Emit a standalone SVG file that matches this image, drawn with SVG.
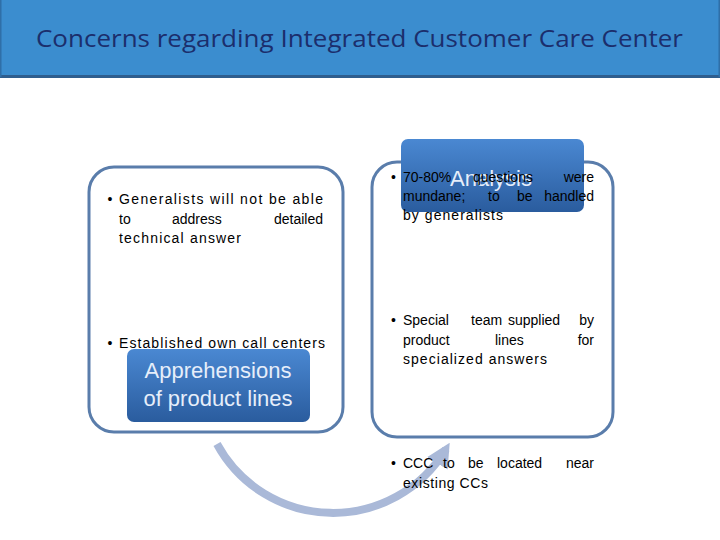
<svg xmlns="http://www.w3.org/2000/svg" width="720" height="540" viewBox="0 0 720 540">
<defs>
<linearGradient id="blueGrad" x1="0" y1="0" x2="0" y2="1">
<stop offset="0" stop-color="#4a88d2"/>
<stop offset="1" stop-color="#2a5c9e"/>
</linearGradient>
<marker id="arrowHead" viewBox="0 0 10 10" refX="7" refY="5" markerWidth="3" markerHeight="3" orient="auto" markerUnits="strokeWidth">
<path d="M0,0 L10,5 L0,10 z" fill="#aab9d8"/>
</marker>
<style>
.frame{fill:#ffffff;stroke:#5a7dab;stroke-width:3}
.tab{fill:url(#blueGrad)}
.tabText{font-family:"Liberation Sans","Open Sans",sans-serif;font-size:22px;fill:#e6eefa;text-anchor:middle}
.body{font-family:"Liberation Sans","Open Sans",sans-serif;font-size:14px;fill:#000000}
.title{font-family:"Open Sans","Liberation Sans",sans-serif;font-size:24px;fill:#1b2e6c}
</style>
</defs>
<rect width="720" height="540" fill="#ffffff"/>
<g id="header">
<rect x="0" y="0" width="720" height="77" fill="#3b8dcf"/>
<rect x="0" y="75" width="720" height="3" fill="#2f5e8e"/>
<rect x="0" y="0" width="1.5" height="77" fill="#2f6fa8"/>
<rect x="718.5" y="0" width="1.5" height="77" fill="#2f6fa8"/>
<text class="title" x="36" y="47" textLength="647" lengthAdjust="spacingAndGlyphs">Concerns regarding Integrated Customer Care Center</text>
</g>
<g id="connectors">
<path d="M217,444 A132,132 0 0 0 446,449" fill="none" stroke="#aab9d8" stroke-width="8" marker-end="url(#arrowHead)"/>
</g>
<g id="left-panel">
<rect class="frame" x="89" y="167" width="254" height="265" rx="25" ry="25"/>
<text class="body" x="107.5" y="204">•</text>
<text class="body" x="119" y="204" textLength="204" lengthAdjust="spacing">Generalists will not be able</text>
<text class="body" x="119" y="224">to</text>
<text class="body" x="172" y="224">address</text>
<text class="body" x="323" y="224" text-anchor="end">detailed</text>
<text class="body" x="119" y="243" textLength="122" lengthAdjust="spacing">technical answer</text>
<text class="body" x="107.5" y="348">•</text>
<text class="body" x="119" y="348" textLength="206" lengthAdjust="spacing">Established own call centers</text>
</g>
<g id="apprehensions">
<rect class="tab" x="127" y="349" width="183" height="73" rx="7" ry="7"/>
<text class="tabText" x="218" y="378">Apprehensions</text>
<text class="tabText" x="218" y="406">of product lines</text>
</g>
<g id="right-panel">
<rect class="frame" x="372" y="162" width="241" height="275" rx="25" ry="25"/>
</g>
<g id="analysis">
<rect class="tab" x="401" y="139" width="183" height="73" rx="7" ry="7"/>
<text class="tabText" x="491" y="186" font-size="24">Analysis</text>
</g>
<g id="right-text">
<text class="body" x="391" y="182">•</text>
<text class="body" x="403" y="182">70-80%</text>
<text class="body" x="473" y="182">questions</text>
<text class="body" x="594" y="182" text-anchor="end">were</text>
<text class="body" x="403" y="201">mundane;</text>
<text class="body" x="488" y="201">to</text>
<text class="body" x="517" y="201">be</text>
<text class="body" x="594" y="201" text-anchor="end">handled</text>
<text class="body" x="403" y="220" textLength="100" lengthAdjust="spacing">by generalists</text>
<text class="body" x="391" y="325">•</text>
<text class="body" x="403" y="325">Special</text>
<text class="body" x="471" y="325">team</text>
<text class="body" x="508" y="325">supplied</text>
<text class="body" x="594" y="325" text-anchor="end">by</text>
<text class="body" x="403" y="345">product</text>
<text class="body" x="495" y="345">lines</text>
<text class="body" x="594" y="345" text-anchor="end">for</text>
<text class="body" x="403" y="364" textLength="144" lengthAdjust="spacing">specialized answers</text>
<text class="body" x="391" y="468">•</text>
<text class="body" x="403" y="468">CCC</text>
<text class="body" x="443" y="468">to</text>
<text class="body" x="468" y="468">be</text>
<text class="body" x="497" y="468">located</text>
<text class="body" x="594" y="468" text-anchor="end">near</text>
<text class="body" x="403" y="488" textLength="85" lengthAdjust="spacing">existing CCs</text>
</g>
</svg>
